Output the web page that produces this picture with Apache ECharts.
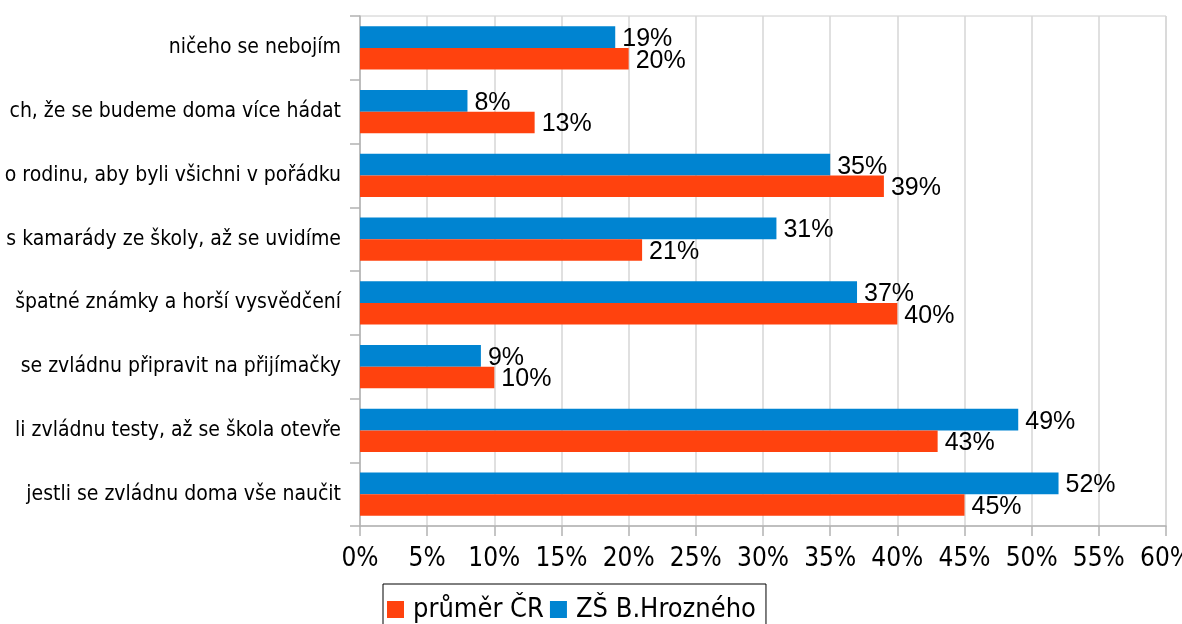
<!DOCTYPE html>
<html>
<head>
<meta charset="utf-8">
<script src="https://cdn.jsdelivr.net/npm/echarts@6/dist/echarts.min.js"></script>
<style>
  html, body { margin: 0; padding: 0; background: #fff; }
  #chart { width: 1182px; height: 624px; }
</style>
</head>
<body>
<div id="chart"></div>
<script>
const categories = [
  'ničeho se nebojím',
  'ch, že se budeme doma více hádat',
  'o rodinu, aby byli všichni v pořádku',
  's kamarády ze školy, až se uvidíme',
  'špatné známky a horší vysvědčení',
  'se zvládnu připravit na přijímačky',
  'li zvládnu testy, až se škola otevře',
  'jestli se zvládnu doma vše naučit'
]
const schoolValues = [19, 8, 35, 31, 37, 9, 49, 52]
const czechValues = [20, 13, 39, 21, 40, 10, 43, 45]
const seriesNames = ['průměr ČR', 'ZŠ B.Hrozného']

const labelFont = '"DejaVu Sans Condensed", "Liberation Sans Narrow", sans-serif'
const axisFont = '"Liberation Sans Narrow", "DejaVu Sans Condensed", sans-serif'

const chart = echarts.init(document.getElementById('chart'), null, { renderer: 'canvas' })

const valueLabel = {
  show: true,
  position: 'right',
  distance: 7,
  offset: [0, 2],
  color: '#000',
  fontFamily: '"Liberation Sans", Arial, sans-serif',
  fontSize: 25,
  formatter: p => p.value + '%'
}

const option = {
  animation: false,
  backgroundColor: '#fff',
  grid: {
    left: 360,
    right: 16,
    top: 16,
    bottom: 98,
    outerBoundsMode: 'none',
    show: true,
    borderColor: '#cccccc',
    borderWidth: 1
  },
  legend: {
    data: seriesNames,
    left: 383,
    top: 584,
    orient: 'horizontal',
    icon: 'rect',
    itemWidth: 17,
    itemHeight: 17,
    itemGap: 6,
    padding: [12, 10, 20, 4],
    borderColor: '#000',
    borderWidth: 1,
    textStyle: {
      color: '#000',
      fontFamily: labelFont,
      fontSize: 27,
      padding: [0, 0, 0, 4]
    }
  },
  xAxis: {
    type: 'value',
    min: 0,
    max: 60,
    interval: 5,
    axisLine: { show: true, lineStyle: { color: '#b3b3b3', width: 1.5 } },
    axisTick: { show: true, length: 10, lineStyle: { color: '#b3b3b3', width: 1.5 } },
    splitLine: { show: true, lineStyle: { color: '#d6d6d6', width: 1.5 } },
    axisLabel: {
      color: '#000',
      fontFamily: axisFont,
      fontSize: 26,
      margin: 20,
      formatter: '{value}%'
    }
  },
  yAxis: {
    type: 'category',
    inverse: true,
    data: categories,
    axisLine: { show: true, lineStyle: { color: '#b3b3b3', width: 1.5 } },
    axisTick: { show: true, length: 10, lineStyle: { color: '#b3b3b3', width: 1.5 } },
    splitLine: { show: false },
    axisLabel: {
      color: '#000',
      fontFamily: labelFont,
      fontSize: 21,
      margin: 19,
      padding: [4, 0, 0, 0]
    }
  },
  series: [
    {
      name: 'ZŠ B.Hrozného',
      type: 'bar',
      data: schoolValues,
      itemStyle: { color: '#0084d1' },
      barGap: '0%',
      barCategoryGap: '32.5%',
      label: valueLabel
    },
    {
      name: 'průměr ČR',
      type: 'bar',
      data: czechValues,
      itemStyle: { color: '#ff420e' },
      barGap: '0%',
      barCategoryGap: '32.5%',
      label: valueLabel
    }
  ]
}

chart.setOption(option)

window.onresize = () => {
  chart.resize()
}
</script>
</body>
</html>
